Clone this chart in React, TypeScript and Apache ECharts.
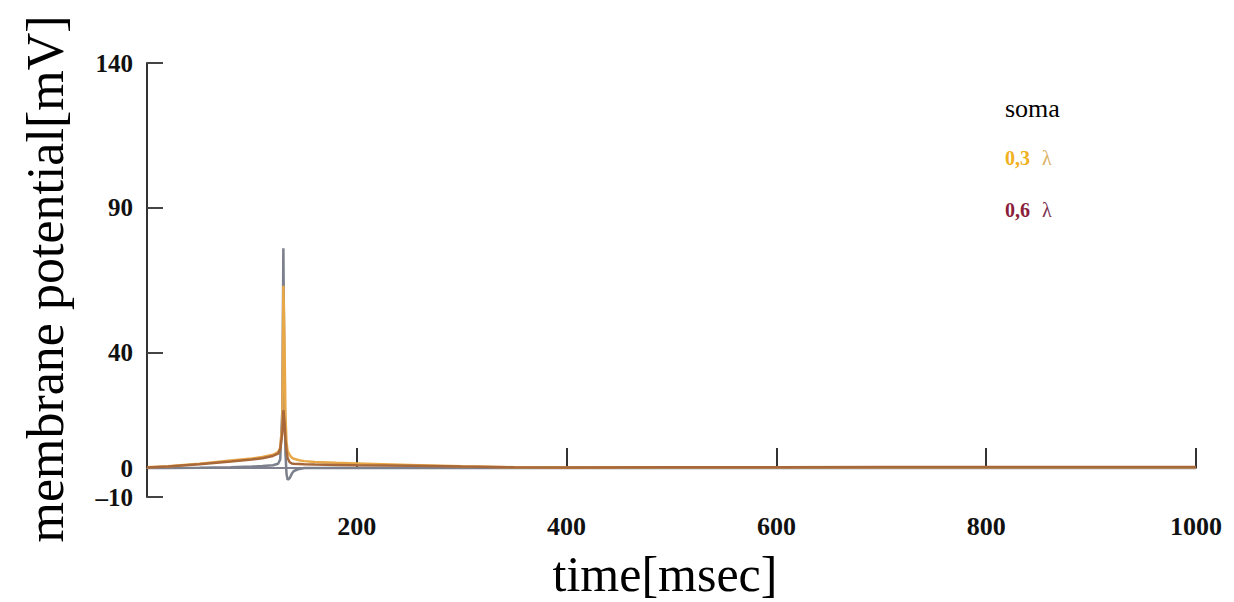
import React, { useEffect, useRef } from "react";
import * as echarts from "echarts";

const times = [0, 20, 50, 80, 100, 110, 120, 125, 127, 129, 130, 131, 132, 133, 134, 136, 138, 140, 145, 150, 160, 180, 200, 250, 300, 350, 400, 500, 600, 700, 800, 900, 1000];
const grayValues = [0, 0, 0.1, 0.3, 0.5, 0.7, 1, 1.5, 3, 20, 76, 30, 5, -2, -4, -3.5, -2, -1, -0.3, 0, 0, 0, 0, 0, 0, 0, 0, 0, 0, 0, 0, 0, 0];
const orangeValues = [0.3, 0.6, 1.5, 2.6, 3.3, 3.8, 4.6, 5.5, 7, 15, 63, 45, 18, 9, 6, 4.5, 3.6, 3.2, 2.7, 2.4, 2.1, 1.8, 1.6, 1.1, 0.6, 0.3, 0.2, 0.3, 0.3, 0.3, 0.3, 0.3, 0.3];
const brownValues = [0.2, 0.5, 1.3, 2.3, 3, 3.4, 4.2, 5, 6.5, 12, 20, 16, 10, 6, 3.5, 2, 1.6, 1.5, 1.4, 1.3, 1.2, 1.1, 1, 0.8, 0.5, 0.3, 0.2, 0.3, 0.3, 0.4, 0.4, 0.4, 0.4];
const yTicks = [-10, 0, 40, 90, 140];

const toPairs = (vals: number[]) => times.map((t, i) => [t, vals[i]]);

const serif = "'Liberation Serif', 'Times New Roman', serif";

export default function App() {
  const ref = useRef<HTMLDivElement>(null);
  useEffect(() => {
    if (!ref.current) return;
    const chart = echarts.init(ref.current, null, { renderer: "svg" });
    chart.setOption({
      animation: false,
      backgroundColor: "#ffffff",
      grid: { left: 147, right: 38, top: 63, bottom: 105, containLabel: false },
      xAxis: {
        type: "value",
        min: 0,
        max: 1000,
        interval: 200,
        splitLine: { show: false },
        axisLine: { onZero: true, lineStyle: { color: "#7f8090", width: 2 } },
        axisTick: { inside: true, length: 20, lineStyle: { color: "#333", width: 2 } },
        axisLabel: {
          margin: 16,
          fontFamily: serif,
          fontWeight: "bold",
          fontSize: 26,
          color: "#111",
          formatter: (v: number) => (v === 0 ? "" : String(v)),
        },
      },
      yAxis: {
        type: "value",
        min: -10,
        max: 140,
        splitLine: { show: false },
        axisLine: { show: true, lineStyle: { color: "#333", width: 2 } },
        axisTick: { show: true, inside: true, length: 16, customValues: yTicks, lineStyle: { color: "#444", width: 2 } },
        axisLabel: {
          margin: 14,
          customValues: yTicks,
          fontFamily: serif,
          fontWeight: "bold",
          fontSize: 25,
          color: "#111",
          formatter: (v: number) => String(v).replace("-", "\u2013"),
        },
      },
      series: [
        { type: "line", data: toPairs(grayValues), showSymbol: false, lineStyle: { color: "#7c7f8c", width: 2.5 } },
        { type: "line", data: toPairs(orangeValues), showSymbol: false, lineStyle: { color: "#e8a848", width: 2.5 } },
        { type: "line", data: toPairs(brownValues), showSymbol: false, lineStyle: { color: "#a8683a", width: 2.5 } },
      ],
      graphic: [
        {
          type: "text",
          x: 45,
          y: 279,
          rotation: Math.PI / 2,
          style: { text: "membrane potential[mV]", font: `52px ${serif}`, fill: "#000", align: "center", verticalAlign: "middle" },
        },
        {
          type: "text",
          x: 665,
          y: 574,
          style: { text: "time[msec]", font: `50px ${serif}`, fill: "#000", align: "center", verticalAlign: "middle" },
        },
        { type: "text", x: 1005, y: 108, style: { text: "soma", font: `26px ${serif}`, fill: "#000", verticalAlign: "middle" } },
        { type: "text", x: 1005, y: 158, style: { text: "0,3", font: `bold 20px ${serif}`, fill: "#f0b020", verticalAlign: "middle" } },
        { type: "text", x: 1042, y: 158, style: { text: "λ", font: `20px ${serif}`, fill: "#d8b060", verticalAlign: "middle" } },
        { type: "text", x: 1005, y: 210, style: { text: "0,6", font: `bold 20px ${serif}`, fill: "#8b1e3a", verticalAlign: "middle" } },
        { type: "text", x: 1042, y: 210, style: { text: "λ", font: `20px ${serif}`, fill: "#7a3050", verticalAlign: "middle" } },
      ],
    });
    return () => chart.dispose();
  }, []);
  return <div ref={ref} style={{ width: 1234, height: 602, position: "absolute", left: 0, top: 0 }} />;
}
